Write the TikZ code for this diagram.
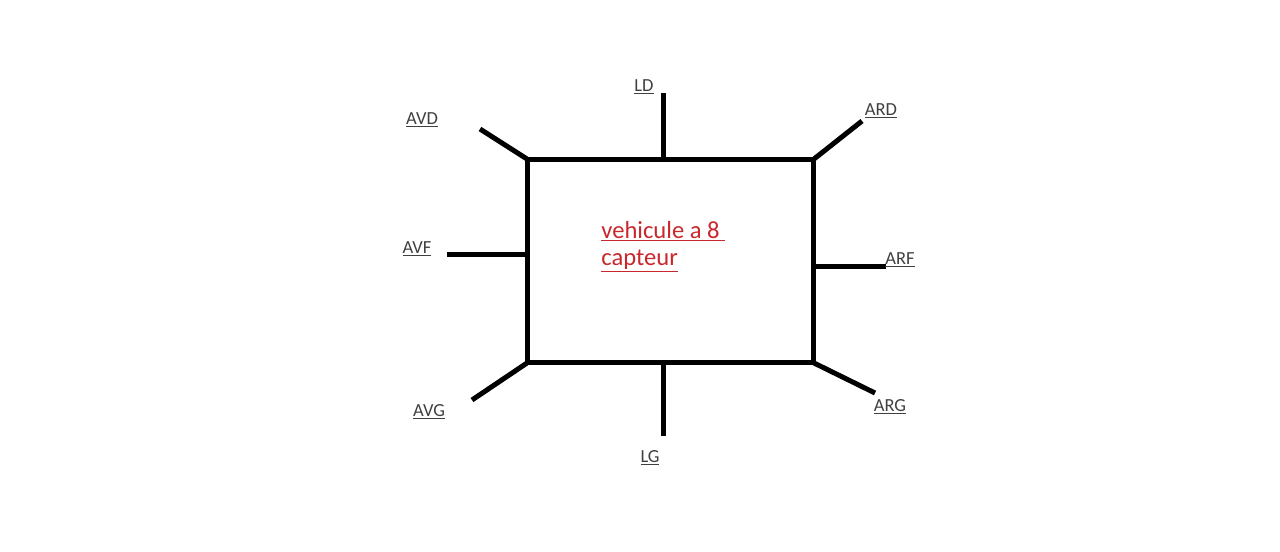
\documentclass[tikz,border=0pt]{standalone}
\usepackage{fontspec}
\setmainfont{Carlito}
\usepackage{xcolor}
\usepackage{tikz}
\usetikzlibrary{positioning}
\definecolor{sensgray}{HTML}{404040}
\definecolor{carred}{HTML}{C8282D}

\begin{document}
\begin{tikzpicture}[x=0.02cm, y=-0.02cm]
    \tikzstyle{car}=[draw=black, line width=0.1cm, outer sep=0pt, inner sep=0pt,
                     minimum width=5.74cm, minimum height=4.08cm]
    \tikzstyle{sensor}=[draw=black, line width=0.1cm]
    \tikzstyle{tag}=[font=\fontsize{10.5}{12}\selectfont, text=sensgray, inner sep=0pt]

    \useasboundingbox (0,0) rectangle (1280,551);

    \node[car] (veh) at (670.5,261) {};
    \node[anchor=base west, inner sep=0pt, align=left, text=carred,
          font=\fontsize{14}{15.3}\selectfont] (title) at (601,265)
          {\underline{vehicule a 8\ }\\\underline{capteur}};

    % sensor ends
    \coordinate (avd) at (480,129);
    \coordinate (ld)  at (663,93);
    \coordinate (ard) at (862,121);
    \coordinate (avf) at (447,254);
    \coordinate (arf) at (886,266);
    \coordinate (avg) at (472,400);
    \coordinate (lg)  at (663,436);
    \coordinate (arg) at (875,393);

    \draw[sensor] (veh.north west) -- (avd);
    \draw[sensor] (ld |- veh.north) -- (ld);
    \draw[sensor] (veh.north east) -- (ard);
    \draw[sensor] (veh.west |- avf) -- (avf);
    \draw[sensor] (veh.east |- arf) -- (arf);
    \draw[sensor] (veh.south west) -- (avg);
    \draw[sensor] (lg |- veh.south) -- (lg);
    \draw[sensor] (veh.south east) -- (arg);

    \node[tag] (avdtag) at (422,120) {\underline{AVD}};
    \node[tag] (ldtag)  at (644,87)  {\underline{LD}};
    \node[tag] (ardtag) at (881,111) {\underline{ARD}};
    \node[tag] (avftag) at (417,249) {\underline{AVF}};
    \node[tag] (arftag) at (900,260) {\underline{ARF}};
    \node[tag] (avgtag) at (429,412) {\underline{AVG}};
    \node[tag] (lgtag)  at (650,458) {\underline{LG}};
    \node[tag] (argtag) at (890,407) {\underline{ARG}};
  \end{tikzpicture}
\end{document}
